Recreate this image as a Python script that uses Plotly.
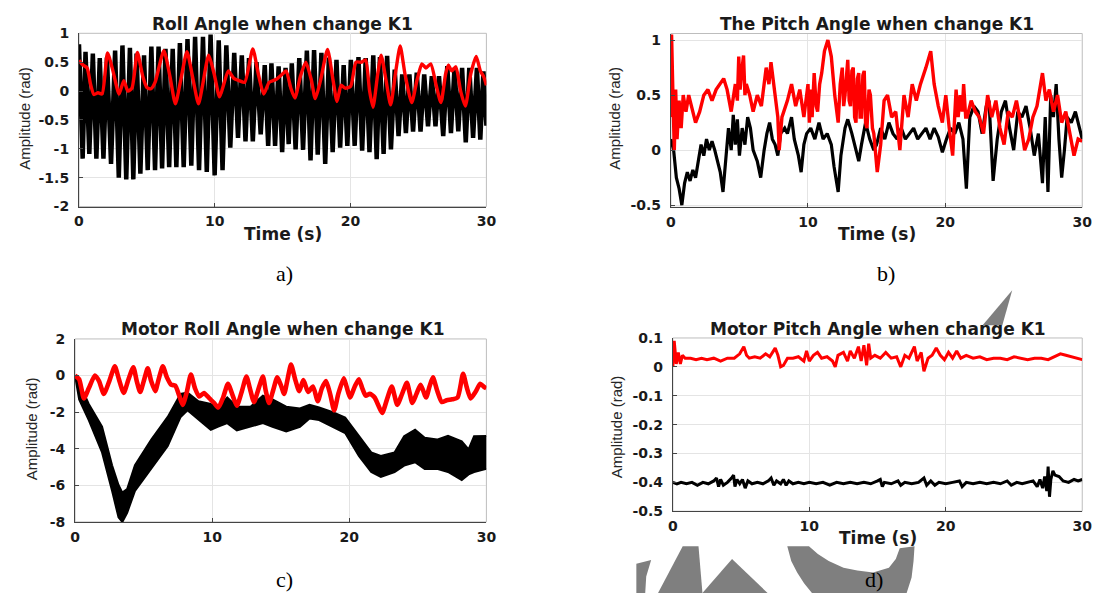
import plotly.graph_objects as go

W, H = 1110, 601

# ---------------- DATA ----------------
time_ticks = [0, 10, 20, 30]

# (a) Roll angle: black (oscillation peaks/troughs), red
roll_black_peak_t = [0.00, 0.48, 1.02, 1.53, 2.06, 2.66, 3.20, 3.75, 4.24, 4.79, 5.33, 5.86, 6.37, 6.90,
                     7.43, 7.99, 8.55, 9.13, 9.69, 10.29, 10.85, 11.43, 11.99, 12.52, 13.07, 13.68, 14.17,
                     14.70, 15.21, 15.67, 16.22, 16.78, 17.31, 17.85, 18.40, 18.96, 19.49, 20.02, 20.58,
                     21.11, 21.67, 22.16, 22.69, 23.25, 23.80, 24.33, 24.87, 25.42, 25.98, 26.51, 27.12,
                     27.65, 28.21, 28.74, 29.30, 29.78]
roll_black_peak_v = [0.81, 0.68, 0.65, 0.57, 0.58, 0.70, 0.79, 0.75, 0.65, 0.62, 0.77, 0.77, 0.73, 0.73,
                     0.83, 0.90, 0.94, 0.94, 0.98, 0.88, 0.79, 0.66, 0.62, 0.57, 0.50, 0.45, 0.48, 0.43,
                     0.40, 0.48, 0.57, 0.70, 0.71, 0.66, 0.58, 0.54, 0.45, 0.54, 0.59, 0.57, 0.62, 0.59,
                     0.61, 0.37, 0.29, 0.29, 0.32, 0.29, 0.26, 0.26, 0.43, 0.40, 0.40, 0.40, 0.40, 0.34]
roll_black_trough_t = [0.27, 0.76, 1.28, 1.80, 2.36, 2.93, 3.48, 4.00, 4.52, 5.06,
                       5.60, 6.12, 6.64, 7.17, 7.71, 8.27, 8.84, 9.41, 9.99, 10.57,
                       11.14, 11.71, 12.26, 12.80, 13.38, 13.93, 14.44, 14.96, 15.44, 15.95,
                       16.50, 17.05, 17.58, 18.13, 18.68, 19.23, 19.76, 20.30, 20.85, 21.39,
                       21.92, 22.43, 22.97, 23.53, 24.07, 24.60, 25.15, 25.70, 26.25, 26.82,
                       27.39, 27.93, 28.48, 29.02, 29.55, 30.0]
roll_black_trough_v = [-1.17, -1.09, -1.17, -1.17, -1.26, -1.50, -1.53, -1.53, -1.43, -1.37,
                       -1.37, -1.34, -1.32, -1.32, -1.32, -1.29, -1.37, -1.40, -1.46, -1.37,
                       -0.98, -0.81, -0.87, -0.87, -0.75, -0.95, -0.95, -1.06, -0.92, -1.01,
                       -1.02, -1.20, -1.10, -1.26, -1.06, -0.98, -0.95, -0.95, -1.03, -1.06,
                       -1.18, -1.09, -1.01, -0.78, -0.73, -0.70, -0.70, -0.61, -0.61, -0.78,
                       -0.73, -0.70, -0.89, -0.81, -0.84, -0.60]
roll_red_t = [0, 0.3, 0.6, 0.85, 1.1, 1.4, 1.7, 2.1, 2.5, 2.95, 3.3, 3.6, 3.9, 4.3, 4.7, 5.0, 5.3, 5.6,
              6.25, 6.7, 7.1, 7.5, 7.95, 8.4, 8.8, 9.1, 9.55, 9.95, 10.35, 10.7, 11.0, 11.4, 11.8, 12.2,
              12.8, 13.2, 13.6, 14.0, 14.5, 15.0, 15.25, 15.6, 15.9, 16.3, 16.7, 17.1, 17.4, 17.8, 18.3,
              18.7, 19.0, 19.3, 19.6, 20.0, 20.4, 20.8, 21.1, 21.4, 21.65, 22.0, 22.25, 22.6, 22.95,
              23.3, 23.65, 24.0, 24.5, 24.9, 25.25, 25.55, 25.9, 26.3, 26.65, 27.0, 27.2, 27.45, 27.75,
              28.1, 28.45, 28.85, 29.25, 29.55, 29.8, 30.0]
roll_red_v = [0.53, 0.45, 0.40, 0.12, -0.06, -0.03, -0.05, 0.66, 0.35, -0.05, 0.18, 0.0, 0.05, 0.67,
              0.25, 0.06, 0.04, 0.15, 0.70, 0.25, -0.22, 0.2, 0.68, 0.2, -0.22, 0.1, 0.62, 0.3, -0.10,
              0.15, 0.35, 0.22, 0.18, 0.15, 0.73, 0.3, -0.05, 0.15, 0.2, 0.3, 0.35, 0.05, -0.12, 0.25,
              0.5, 0.2, -0.13, 0.2, 0.72, 0.2, -0.18, 0.1, 0.05, 0.08, 0.5, 0.5, 0.54, 0.0, -0.28, 0.3,
              0.62, 0.2, -0.24, 0.3, 0.78, 0.3, -0.2, 0.2, 0.47, 0.40, 0.47, 0.1, -0.2, 0.3, 0.45, 0.35,
              0.42, 0.0, -0.26, 0.3, 0.6, 0.35, 0.25, 0.1]

# (b) Pitch angle
pitch_red_t = [0, 0.05, 0.15, 0.25, 0.35, 0.45, 0.6, 0.75, 0.9, 1.1, 1.3, 1.5, 1.8, 2.1, 2.4, 2.7, 3.0,
               3.3, 3.6, 3.85, 4.1, 4.4, 4.7, 4.85, 4.95, 5.05, 5.15, 5.3, 5.4, 5.5, 5.75, 6.0, 6.3, 6.6,
               6.95, 7.15, 7.3, 7.55, 7.8, 7.9, 8.1, 8.5, 8.8, 9.1, 9.4, 9.7, 10.0, 10.1, 10.2, 10.3,
               10.45, 10.6, 10.7, 10.85, 11.0, 11.2, 11.45, 11.7, 11.95, 12.2, 12.35, 12.5, 12.6, 12.7,
               12.9, 13.0, 13.1, 13.2, 13.3, 13.4, 13.5, 13.6, 13.7, 13.8, 13.9, 14.0, 14.1, 14.2, 14.3,
               14.45, 14.55, 14.7, 14.8, 15.05, 15.3, 15.55, 15.8, 16.1, 16.4, 16.7, 17.0, 17.3, 17.6,
               17.9, 18.2, 18.6, 18.95, 19.2, 19.5, 19.8, 20.05, 20.3, 20.55, 20.8, 20.95, 21.1, 21.25,
               21.35, 21.5, 21.6, 21.9, 22.2, 22.5, 22.8, 23.1, 23.4, 23.7, 24.0, 24.3, 24.6, 24.9, 25.2,
               25.5, 25.8, 26.1, 26.4, 26.7, 27.1, 27.35, 27.6, 27.9, 28.2, 28.5, 28.8, 29.1, 29.4,
               29.7, 30.0]
pitch_red_v = [0.3, 1.05, 0.5, 0.0, 0.55, 0.1, 0.45, 0.2, 0.5, 0.35, 0.5, 0.4, 0.25, 0.35, 0.5, 0.55,
               0.45, 0.55, 0.6, 0.65, 0.55, 0.35, 0.6, 0.45, 0.85, 0.55, 0.7, 0.86, 0.5, 0.6, 0.5, 0.35,
               0.5, 0.4, 0.75, 0.6, 0.8, 0.55, 0.3, 0.0, 0.3, 0.45, 0.6, 0.4, 0.55, 0.3, 0.6, 0.25, 0.55,
               0.3, 0.7, 0.4, 0.35, 0.6, 0.7, 0.9, 1.0, 0.85, 0.5, 0.25, 0.6, 0.75, 0.4, 0.5, 0.82,
               0.45, 0.4, 0.72, 0.75, 0.3, 0.25, 0.65, 0.7, 0.3, 0.3, 0.68, 0.72, 0.25, 0.2, 0.55, 0.5,
               0.2, 0.15, -0.2, 0.05, 0.45, 0.5, 0.3, 0.35, 0.0, 0.5, 0.3, 0.6, 0.45, 0.6, 0.75, 0.9,
               0.6, 0.4, 0.25, 0.5, 0.2, -0.05, 0.55, 0.3, 0.5, 0.35, 0.6, 0.3, 0.3, 0.45, 0.35, 0.3,
               0.15, 0.5, 0.3, 0.45, 0.2, 0.05, 0.35, 0.3, 0.45, 0.25, 0.0, 0.1, 0.3, 0.4, 0.7, 0.45,
               0.55, 0.35, 0.5, 0.25, 0.35, 0.15, -0.05, 0.1, 0.08]
pitch_black_t = [0, 0.2, 0.4, 0.6, 0.8, 1.0, 1.2, 1.4, 1.6, 1.8, 2.0, 2.2, 2.4, 2.6, 2.8, 3.0, 3.2, 3.4,
                 3.6, 3.8, 4.0, 4.2, 4.4, 4.55, 4.7, 4.85, 5.0, 5.2, 5.4, 5.6, 5.8, 6.0, 6.3, 6.55, 6.8,
                 7.0, 7.2, 7.4, 7.6, 7.8, 8.0, 8.3, 8.5, 8.8, 9.0, 9.3, 9.5, 9.7, 9.9, 10.2, 10.5, 10.8,
                 11.1, 11.4, 11.7, 11.9, 12.2, 12.4, 12.7, 12.9, 13.2, 13.4, 13.7, 13.9, 14.2, 14.5, 14.8,
                 15.0, 15.3, 15.6, 15.9, 16.2, 16.5, 16.8, 17.1, 17.4, 17.7, 18.0, 18.3, 18.6, 18.9, 19.2,
                 19.5, 19.8, 20.1, 20.4, 20.7, 21.0, 21.3, 21.55, 21.8, 22.1, 22.4, 22.7, 23.0, 23.2, 23.5,
                 23.8, 24.1, 24.4, 24.7, 25.0, 25.3, 25.6, 25.9, 26.2, 26.5, 26.8, 27.1, 27.3, 27.5, 27.7,
                 27.9, 28.1, 28.3, 28.5, 28.7, 28.9, 29.2, 29.5, 29.8, 30.0]
pitch_black_v = [0.1, 0.0, -0.25, -0.35, -0.5, -0.3, -0.2, -0.28, -0.18, -0.25, -0.1, 0.05, -0.05, 0.1,
                 0.0, 0.08, 0.0, -0.1, -0.2, -0.38, -0.1, 0.2, 0.0, 0.32, 0.05, 0.28, -0.05, 0.2, 0.05,
                 0.3, 0.2, 0.0, -0.1, -0.25, 0.0, 0.15, 0.25, 0.1, 0.05, -0.05, 0.15, 0.2, 0.15, 0.3, 0.1,
                 -0.05, -0.2, 0.05, 0.15, 0.2, 0.1, 0.25, 0.1, 0.15, 0.05, -0.15, -0.38, -0.05, 0.2, 0.28,
                 0.15, 0.05, -0.1, 0.05, 0.25, 0.1, 0.0, 0.05, 0.2, 0.1, 0.25, 0.15, 0.1, 0.2, 0.1, 0.15,
                 0.2, 0.1, 0.15, 0.2, 0.1, 0.2, 0.12, -0.02, 0.1, 0.2, 0.15, 0.25, 0.1, -0.35, 0.3, 0.4,
                 0.35, 0.15, 0.4, 0.45, -0.28, 0.1, 0.35, 0.45, 0.2, 0.0, 0.35, 0.3, 0.4, 0.2, -0.05, 0.15,
                 -0.3, 0.3, -0.38, 0.5, 0.3, 0.6, 0.1, -0.25, 0.0, 0.3, 0.25, 0.35, 0.2, 0.1]

# (c) Motor roll angle: black band (upper/lower envelope), red line
mroll_black_t = [0, 0.3, 1.0, 1.97, 2.7, 3.17, 3.45, 3.8, 4.37, 5.56, 6.76, 7.7, 8.2, 9.0, 9.9, 10.4,
                 11.1, 11.8, 12.8, 13.7, 14.4, 15.4, 16.4, 17.1, 17.8, 18.8, 19.7, 20.7, 21.6, 22.3,
                 23.3, 24.0, 24.8, 25.5, 26.4, 27.2, 28.2, 28.7, 29.1, 30.0]
mroll_black_up = [0.0, -0.4, -1.55, -2.79, -4.9, -5.98, -6.4, -6.2, -4.9, -3.5, -2.26, -1.0, -0.93,
                  -1.4, -1.55, -1.8, -1.2, -1.7, -1.7, -1.1, -1.3, -1.7, -1.8, -1.6, -1.75, -2.0, -2.3,
                  -3.32, -4.2, -4.39, -4.2, -3.32, -2.96, -3.4, -3.5, -3.3, -3.6, -4.04, -3.32, -3.3]
mroll_black_lo = [0.0, -1.3, -2.43, -4.2, -6.3, -7.75, -8.0, -7.5, -6.3, -5.1, -3.85, -2.26, -1.9,
                  -2.4, -2.97, -2.8, -2.6, -3.0, -2.8, -2.6, -2.8, -3.05, -2.8, -2.35, -2.43, -2.79,
                  -3.14, -4.39, -5.27, -5.54, -5.27, -4.92, -4.74, -5.1, -5.1, -5.27, -5.71, -5.4, -5.27,
                  -5.1]
mroll_red_t = [0, 0.3, 0.65, 1.0, 1.45, 1.75, 2.1, 2.5, 2.9, 3.2, 3.55, 3.9, 4.25, 4.5, 4.75, 5.05, 5.3,
               5.55, 5.85, 6.1, 6.4, 6.7, 7.0, 7.3, 7.6, 7.85, 8.15, 8.45, 8.75, 9.05, 9.4, 9.8, 10.15,
               10.45, 10.8, 11.15, 11.5, 11.8, 12.15, 12.5, 12.75, 13.05, 13.35, 13.7, 13.9, 14.15, 14.45,
               14.75, 15.0, 15.25, 15.5, 15.75, 16.05, 16.35, 16.65, 17.0, 17.35, 17.7, 18.0, 18.3, 18.6,
               18.9, 19.2, 19.6, 19.8, 20.05, 20.4, 20.7, 20.95, 21.2, 21.5, 21.85, 22.1, 22.4, 22.75,
               23.1, 23.5, 23.85, 24.2, 24.6, 24.9, 25.2, 25.6, 25.85, 26.1, 26.4, 26.75, 27.1, 27.5,
               27.9, 28.3, 28.55, 28.85, 29.2, 29.55, 29.8, 30.0]
mroll_red_v = [0, -0.2, -1.25, -0.7, 0.0, -0.3, -1.0, -0.3, 0.5, -0.2, -0.95, -0.2, 0.45, -0.3, -0.9,
               -0.2, 0.4, -0.3, -0.85, -0.2, 0.5, -0.1, -0.5, -0.55, -1.1, -1.6, -0.9, 0.05, -0.7, -1.15,
               -0.95, -1.25, -1.5, -1.75, -1.2, -0.45, -1.1, -1.65, -0.9, -0.05, -0.7, -1.45, -0.8, -0.05,
               -0.8, -1.5, -0.8, -0.1, -0.5, -1.0, -0.2, 0.6, -0.2, -0.85, -0.25, -0.9, -0.6, -1.4, -0.7,
               -0.3, -1.0, -1.9, -1.0, -0.15, -0.6, -1.2, -0.6, -0.2, -0.7, -1.1, -1.0, -1.2, -1.6, -2.05,
               -1.3, -0.6, -1.6, -1.0, -0.4, -1.5, -1.0, -0.5, -1.2, -0.6, -0.1, -0.8, -1.45, -1.35, -1.3,
               -1.2, 0.1, -0.6, -1.25, -0.9, -0.45, -0.6, -0.7]

# (d) Motor pitch angle
mpitch_red_t = [0, 0.1, 0.25, 0.4, 0.55, 0.7, 0.9, 1.3, 1.7, 2.1, 2.5, 3.0, 3.5, 4.0, 4.5, 4.9, 5.2,
                5.4, 5.6, 6.0, 6.4, 6.8, 7.1, 7.5, 7.7, 7.9, 8.1, 8.4, 8.8, 9.2, 9.6, 9.8, 10.0, 10.3,
                10.6, 10.9, 11.3, 11.7, 11.9, 12.1, 12.5, 12.8, 13.0, 13.3, 13.6, 13.8, 14.0, 14.2, 14.35,
                14.5, 14.8, 15.2, 15.6, 16.0, 16.4, 16.7, 17.0, 17.3, 17.7, 17.9, 18.2, 18.4, 18.7, 19.0,
                19.3, 19.6, 19.9, 20.2, 20.5, 20.8, 21.1, 21.5, 22.0, 22.5, 23.0, 23.5, 24.0, 24.5, 25.0,
                25.5, 26.0, 26.5, 27.0, 27.5, 28.0, 28.4, 28.8, 29.2, 29.6, 30.0]
mpitch_red_v = [0.0, 0.09, 0.01, 0.05, 0.01, 0.04, 0.03, 0.03, 0.025, 0.03, 0.025, 0.03, 0.02, 0.03,
                0.03, 0.045, 0.07, 0.04, 0.03, 0.035, 0.03, 0.045, 0.035, 0.065, 0.04, 0.0, 0.005, 0.03,
                0.03, 0.035, 0.02, 0.055, 0.02, 0.04, 0.05, 0.03, 0.035, 0.02, 0.0, 0.04, 0.05, 0.02,
                0.055, 0.03, 0.07, 0.02, 0.075, 0.005, 0.08, 0.03, 0.04, 0.03, 0.05, 0.03, 0.035, 0.0,
                0.04, 0.03, 0.07, 0.02, 0.05, -0.015, 0.03, 0.04, 0.065, 0.04, 0.025, 0.05, 0.03, 0.055,
                0.03, 0.04, 0.03, 0.035, 0.025, 0.03, 0.03, 0.025, 0.035, 0.03, 0.025, 0.03, 0.03, 0.025,
                0.035, 0.045, 0.04, 0.035, 0.03, 0.025]
mpitch_black_t = [0, 0.3, 0.6, 1.0, 1.4, 1.8, 2.2, 2.6, 3.0, 3.2, 3.35, 3.5, 3.7, 4.0, 4.3, 4.45, 4.55,
                  4.7, 4.9, 5.1, 5.3, 5.5, 5.8, 6.2, 6.6, 7.0, 7.2, 7.4, 7.6, 7.9, 8.1, 8.3, 8.5, 8.8, 9.2,
                  9.6, 10.0, 10.5, 11.0, 11.5, 12.0, 12.5, 13.0, 13.5, 14.0, 14.5, 15.0, 15.2, 15.35, 15.5,
                  16.0, 16.5, 16.7, 17.0, 17.5, 18.0, 18.4, 18.6, 18.9, 19.2, 19.5, 20.0, 20.5, 21.0, 21.2,
                  21.5, 22.0, 22.5, 23.0, 23.5, 24.0, 24.5, 24.8, 25.2, 25.6, 26.0, 26.4, 26.7, 26.9, 27.1,
                  27.25, 27.4, 27.5, 27.6, 27.7, 27.85, 28.0, 28.3, 28.6, 29.0, 29.4, 29.7, 30.0]
mpitch_black_v = [-0.40, -0.405, -0.40, -0.405, -0.40, -0.41, -0.40, -0.405, -0.395, -0.385, -0.415,
                  -0.39, -0.41, -0.40, -0.385, -0.375, -0.415, -0.39, -0.405, -0.39, -0.42, -0.395,
                  -0.405, -0.40, -0.405, -0.395, -0.385, -0.41, -0.395, -0.405, -0.39, -0.41, -0.395,
                  -0.405, -0.40, -0.405, -0.40, -0.405, -0.40, -0.41, -0.40, -0.405, -0.40, -0.405,
                  -0.40, -0.405, -0.395, -0.39, -0.415, -0.40, -0.405, -0.395, -0.41, -0.40, -0.405,
                  -0.40, -0.385, -0.41, -0.395, -0.41, -0.40, -0.405, -0.40, -0.395, -0.415, -0.40,
                  -0.405, -0.40, -0.405, -0.40, -0.405, -0.395, -0.41, -0.40, -0.405, -0.40, -0.395,
                  -0.415, -0.39, -0.42, -0.38, -0.43, -0.345, -0.45, -0.39, -0.36, -0.375, -0.38, -0.395,
                  -0.40, -0.39, -0.395, -0.39]

# ---------------- FIGURE ----------------
def px(x):
    return x / W

def py(y):
    return 1 - y / H

RED = "#ff0000"
BLK = "#000000"

fig = go.Figure()

# (a)
a_t, a_v = [], []
for i in range(len(roll_black_peak_t)):
    a_t += [roll_black_peak_t[i], roll_black_trough_t[i]]
    a_v += [roll_black_peak_v[i], roll_black_trough_v[i]]
fig.add_trace(go.Scatter(x=a_t, y=a_v, mode="lines", line=dict(color=BLK, width=4.5),
                         xaxis="x", yaxis="y", showlegend=False))
fig.add_trace(go.Scatter(x=roll_red_t, y=roll_red_v, mode="lines",
                         line=dict(color=RED, width=3.4, shape="spline", smoothing=0.6),
                         xaxis="x", yaxis="y", showlegend=False))
# (b)
fig.add_trace(go.Scatter(x=pitch_black_t, y=pitch_black_v, mode="lines", line=dict(color=BLK, width=3.2),
                         xaxis="x2", yaxis="y2", showlegend=False))
fig.add_trace(go.Scatter(x=pitch_red_t, y=pitch_red_v, mode="lines", line=dict(color=RED, width=3.4),
                         xaxis="x2", yaxis="y2", showlegend=False))
# (c)
fig.add_trace(go.Scatter(x=mroll_black_t, y=mroll_black_up, mode="lines", line=dict(color=BLK, width=2),
                         xaxis="x3", yaxis="y3", showlegend=False))
fig.add_trace(go.Scatter(x=mroll_black_t, y=mroll_black_lo, mode="lines", line=dict(color=BLK, width=2),
                         fill="tonexty", fillcolor=BLK, xaxis="x3", yaxis="y3", showlegend=False))
fig.add_trace(go.Scatter(x=mroll_red_t, y=mroll_red_v, mode="lines",
                         line=dict(color=RED, width=4.6, shape="spline", smoothing=0.6),
                         xaxis="x3", yaxis="y3", showlegend=False))
# (d)
fig.add_trace(go.Scatter(x=mpitch_black_t, y=mpitch_black_v, mode="lines", line=dict(color=BLK, width=3),
                         xaxis="x4", yaxis="y4", showlegend=False))
fig.add_trace(go.Scatter(x=mpitch_red_t, y=mpitch_red_v, mode="lines", line=dict(color=RED, width=3),
                         xaxis="x4", yaxis="y4", showlegend=False))

tickfont = dict(family="DejaVu Sans", size=14, color="#1a1a1a", weight="bold")

def xax(dom, anchor):
    return dict(domain=dom, anchor=anchor, range=[0, 30], tickvals=time_ticks,
                ticktext=[str(v) for v in time_ticks], showgrid=True, gridcolor="#e4e4e4",
                zeroline=False, showline=True, linecolor="#444", linewidth=1, ticks="inside",
                ticklen=4, tickcolor="#444", tickfont=tickfont, ticklabelstandoff=2)

def yax(dom, anchor, rng, vals, texts):
    return dict(domain=dom, anchor=anchor, range=rng, tickvals=vals, ticktext=texts,
                showgrid=True, gridcolor="#e4e4e4", zeroline=False, showline=True,
                linecolor="#444", linewidth=1, ticks="inside", ticklen=4, tickcolor="#444",
                tickfont=tickfont, ticklabelstandoff=6)

fig.update_layout(
    width=W, height=H, margin=dict(l=0, r=0, t=0, b=0),
    paper_bgcolor="white", plot_bgcolor="white",
    xaxis=xax([px(75), px(488)], "y"),
    yaxis=yax([py(204), py(26)], "x", [-2, 1], [-2, -1.5, -1, -0.5, 0, 0.5, 1],
              ["-2", "-1.5", "-1", "-0.5", "0", "0.5", "1"]),
    xaxis2=xax([px(675), px(1092)], "y2"),
    yaxis2=yax([py(204.8), py(26.2)], "x2", [-0.52, 1.06], [-0.5, 0, 0.5, 1],
               ["-0.5", "0", "0.5", "1"]),
    xaxis3=xax([px(71), px(488)], "y3"),
    yaxis3=yax([py(528), py(340)], "x3", [-8, 2], [-8, -6, -4, -2, 0, 2],
               ["-8", "-6", "-4", "-2", "0", "2"]),
    xaxis4=xax([px(677), px(1092)], "y4"),
    yaxis4=yax([py(517), py(339)], "x4", [-0.5, 0.1], [-0.5, -0.4, -0.3, -0.2, -0.1, 0, 0.1],
               ["-0.5", "-0.4", "-0.3", "-0.2", "-0.1", "0", "0.1"]),
)

# light box borders (top/right)
shapes = []
for xa, ya in [("x", "y"), ("x2", "y2"), ("x3", "y3"), ("x4", "y4")]:
    shapes.append(dict(type="rect", xref=xa + " domain", yref=ya + " domain", x0=0, x1=1, y0=0, y1=1,
                       line=dict(color="#bdbdbd", width=1), layer="below"))

# gray watermark fragments (decoration outside the plots)
def path(pts):
    return "M " + " L ".join(f"{px(x):.5f},{py(y):.5f}" for x, y in pts) + " Z"

gray = "#7f7f7f"
for pts in [
    [(1021, 290), (991, 326), (1011, 326)],
    [(640, 571), (655, 567), (650, 584), (649, 601), (640, 601)],
    [(687, 553), (703, 553), (707, 601), (662, 601)],
    [(737, 566), (707, 601), (773, 601)],
    [(793, 553), (797, 568), (803, 580), (810, 591), (818, 601), (914, 601), (919, 585),
     (921, 568), (922, 553), (907, 555), (903, 566), (896, 575), (880, 580), (864, 578),
     (850, 575), (835, 568), (824, 561), (815, 553)],
]:
    shapes.append(dict(type="path", xref="paper", yref="paper", path=path(pts),
                       fillcolor=gray, line=dict(width=0), layer="below"))
fig.update_layout(shapes=shapes)

ann = []
tfont = dict(family="DejaVu Sans", size=17, color="#1a1a1a", weight="bold")
for text, x, y in [("Roll Angle when change K1", 281, 16),
                   ("The Pitch Angle when change K1", 884, 16),
                   ("Motor Roll Angle when change K1", 281, 330),
                   ("Motor Pitch Angle when change K1", 885, 330),
                   ("Time (s)", 282, 232), ("Time (s)", 884, 232), ("Time (s)", 885, 545)]:
    ann.append(dict(text=text, x=px(x), y=py(y), xref="paper", yref="paper", showarrow=False,
                    xanchor="center", yanchor="middle", font=tfont))
for x, y in [(20, 113), (618, 113), (27, 432), (620, 430)]:
    ann.append(dict(text="Amplitude (rad)", x=px(x), y=py(y), xref="paper", yref="paper",
                    showarrow=False, textangle=-90, xanchor="center", yanchor="middle",
                    font=dict(family="Liberation Sans", size=15, color="#262626")))
for text, x, y in [("a)", 283, 273), ("b)", 893, 273), ("c)", 283, 587), ("d)", 881, 587)]:
    ann.append(dict(text=text, x=px(x), y=py(y), xref="paper", yref="paper", showarrow=False,
                    xanchor="center", yanchor="middle",
                    font=dict(family="Liberation Serif", size=22, color="#000000")))
fig.update_layout(annotations=ann)

fig.write_html("out.html")
